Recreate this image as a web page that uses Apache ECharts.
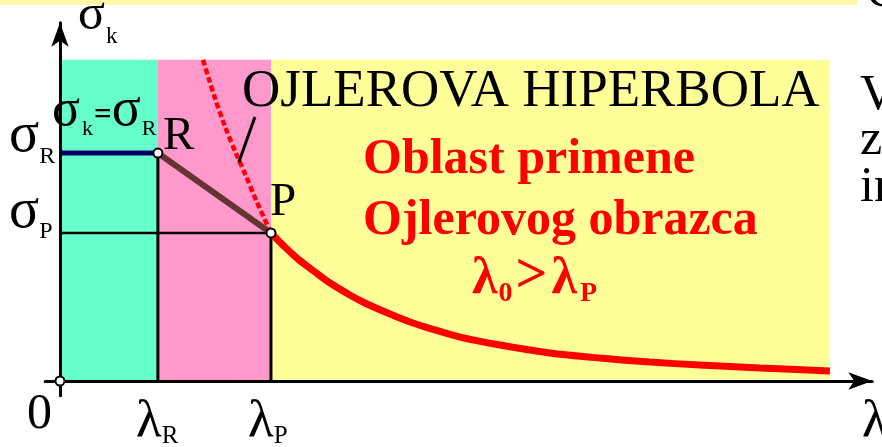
<!DOCTYPE html>
<html>
<head>
<meta charset="utf-8">
<script src="https://cdn.jsdelivr.net/npm/echarts@6/dist/echarts.min.js"></script>
<style>
  html, body { margin: 0; padding: 0; background: #fff; }
  #c { width: 882px; height: 447px; }
</style>
</head>
<body>
<div id="c"></div>
<script>
// Critical values (arbitrary units: λP = 100, σP = 100)
const lambdaR = 46.4;
const lambdaP = 100;
const sigmaR = 154;
const sigmaP = 100;
const regionTop = 217;
const lambdaEnd = 365;

// Euler hyperbola: part above σP (outside validity, dashed) and the valid part (solid)
const eulerDashedLambda = [67.8, 70.6, 73.5, 78.2, 83.4, 88, 93, 100];
const eulerDashedSigma  = [217, 204, 191, 172, 154, 139, 122, 100];
const eulerSolidLambda  = [100, 106.6, 112.8, 120.9, 128, 137.4, 144.5, 156.4, 165.9, 176.3,
                           189.6, 208.5, 232.2, 255.9, 279.6, 303.3, 331.8, 364.9];
const eulerSolidSigma   = [100, 90.5, 82.4, 73.6, 66.2, 58.1, 52.7, 45.3, 39.9, 35.1,
                           29.7, 24.3, 18.9, 15.5, 12.8, 10.8, 8.8, 6.8];

// Leader from the hyperbola title down to the curve
const leaderLambda = [92.4, 84.8];
const leaderSigma  = [178.4, 148];

const pairs = (xs, ys) => xs.map((x, i) => [x, ys[i]]);

const chart = echarts.init(document.getElementById('c'), null, { renderer: 'canvas' });

const SERIF = '"Liberation Serif", "Times New Roman", serif';
const measure = (() => {
  const ctx = document.createElement('canvas').getContext('2d');
  return (t, size, weight) => { ctx.font = (weight || 'normal') + ' ' + size + 'px ' + SERIF; return ctx.measureText(t).width; };
})();

// Draws a run of text pieces (with optional subscripts) starting at x, on a baseline
function run(x, baseline, parts, fill) {
  const out = [];
  let cx = x;
  parts.forEach(p => {
    const size = p.size, w = p.weight || 'normal';
    const bl = baseline + (p.dy || 0);
    cx += (p.dx || 0);
    out.push({
      type: 'text', x: cx, y: bl - 0.34 * size, z: 100,
      style: { text: p.t, fontSize: size, fontFamily: SERIF, fontWeight: w,
               fill: fill || '#000', verticalAlign: 'middle', align: 'left' }
    });
    cx += measure(p.t, size, w);
  });
  return out;
}

const axisCommon = {
  type: 'value', z: 10,
  axisLine: { onZero: true, symbol: ['none', 'arrow'], symbolSize: [13, 24],
              lineStyle: { color: '#000', width: 3 } },
  axisTick: { show: false }, axisLabel: { show: false }, splitLine: { show: false }
};

const RED = '#ff0000';

const graphics = [
  { type: 'rect', shape: { x: 0, y: 0, width: 858, height: 5 }, style: { fill: '#fdf9a4' }, z: 0 },
  ...run(78, 33, [{ t: 'σ', size: 50 }, { t: 'k', size: 23, dy: 12, dx: 1 }]),
  ...run(9, 155, [{ t: 'σ', size: 56 }, { t: 'R', size: 24, dy: 10 }]),
  ...run(9, 231, [{ t: 'σ', size: 56 }, { t: 'P', size: 24, dy: 9 }]),
  ...run(52, 129, [{ t: 'σ', size: 52 }, { t: 'k', size: 22, dy: 8, dx: 2 },
                   { t: '=', size: 31, weight: 'bold', dx: 1, dy: -2 },
                   { t: 'σ', size: 54, dx: 0 }, { t: 'R', size: 22, dy: 8, dx: 1 }]),
  ...run(163, 153, [{ t: 'R', size: 47 }]),
  ...run(270, 219, [{ t: 'P', size: 47 }]),
  ...run(27, 432, [{ t: '0', size: 50 }]),
  ...run(136, 440, [{ t: 'λ', size: 53 }, { t: 'R', size: 25, dy: 5 }]),
  ...run(248, 440, [{ t: 'λ', size: 53 }, { t: 'P', size: 25, dy: 5 }]),
  ...run(862, 440, [{ t: 'λ', size: 53 }]),
  ...run(242, 110, [{ t: 'OJLEROVA HIPERBOLA', size: 53 }]),
  ...run(363, 177, [{ t: 'Oblast primene', size: 50, weight: 'bold' }], RED),
  ...run(363, 238, [{ t: 'Ojlerovog obrazca', size: 50, weight: 'bold' }], RED),
  ...run(472, 297, [{ t: 'λ', size: 52, weight: 'bold' }, { t: '0', size: 28, weight: 'bold', dy: 6, dx: 1 },
                    { t: '>', size: 56, weight: 'bold', dx: 3 }, { t: 'λ', size: 52, weight: 'bold', dx: 4 },
                    { t: 'P', size: 28, weight: 'bold', dy: 6, dx: 3 }], RED),
  ...run(860, 113, [{ t: 'V', size: 50 }]),
  ...run(860, 158, [{ t: 'z', size: 50 }]),
  ...run(860, 205, [{ t: 'in', size: 50 }]),
  ...run(866, 10, [{ t: 'C', size: 50 }])
];

const option = {
  animation: false,
  backgroundColor: '#fff',
  grid: { left: 45.2, top: 22.8, width: 827.1, height: 373 },
  xAxis: Object.assign({}, axisCommon, { min: -7, max: 385 }),
  yAxis: Object.assign({}, axisCommon, { min: -10, max: 242 }),
  series: [
    { // stability regions
      type: 'line', z: 1, data: [[0, 0]], symbol: 'none', lineStyle: { width: 0 }, silent: true,
      markArea: {
        silent: true,
        data: [
          [{ xAxis: 0, yAxis: 0, itemStyle: { color: '#66ffcc', opacity: 1 } }, { xAxis: lambdaR, yAxis: regionTop }],
          [{ xAxis: lambdaR, yAxis: 0, itemStyle: { color: '#ff99cc', opacity: 1 } }, { xAxis: lambdaP, yAxis: regionTop }],
          [{ xAxis: lambdaP, yAxis: 0, itemStyle: { color: '#ffff99', opacity: 1 } }, { xAxis: lambdaEnd, yAxis: regionTop }]
        ]
      }
    },
    { type: 'line', z: 3, symbol: 'none', data: [[lambdaR, 0], [lambdaR, sigmaR]], lineStyle: { color: '#000', width: 3 } },
    { type: 'line', z: 3, symbol: 'none', data: [[lambdaP, 0], [lambdaP, sigmaP]], lineStyle: { color: '#000', width: 3 } },
    { type: 'line', z: 3, symbol: 'none', data: [[0, sigmaP], [lambdaP, sigmaP]], lineStyle: { color: '#000', width: 2.5 } },
    { type: 'line', z: 4, symbol: 'none', data: [[0, sigmaR], [lambdaR, sigmaR]], lineStyle: { color: '#000066', width: 5 } },
    { type: 'line', z: 4, symbol: 'none', data: [[lambdaR, sigmaR], [lambdaP, sigmaP]], lineStyle: { color: '#663333', width: 6 } },
    { type: 'line', z: 5, symbol: 'none', smooth: 0.3, data: pairs(eulerDashedLambda, eulerDashedSigma),
      lineStyle: { color: RED, width: 4.5, type: [6, 3] } },
    { type: 'line', z: 5, symbol: 'none', smooth: 0.3, data: pairs(eulerSolidLambda, eulerSolidSigma),
      lineStyle: { color: RED, width: 7 } },
    { type: 'line', z: 5, symbol: 'none', data: pairs(leaderLambda, leaderSigma), lineStyle: { color: '#000', width: 3 } },
    { type: 'scatter', z: 20, symbol: 'circle', symbolSize: 9,
      data: [[0, 0], [lambdaR, sigmaR], [lambdaP, sigmaP]],
      itemStyle: { color: '#fff', borderColor: '#000', borderWidth: 2, opacity: 1 } }
  ],
  graphic: graphics
};

chart.setOption(option);
</script>
</body>
</html>
